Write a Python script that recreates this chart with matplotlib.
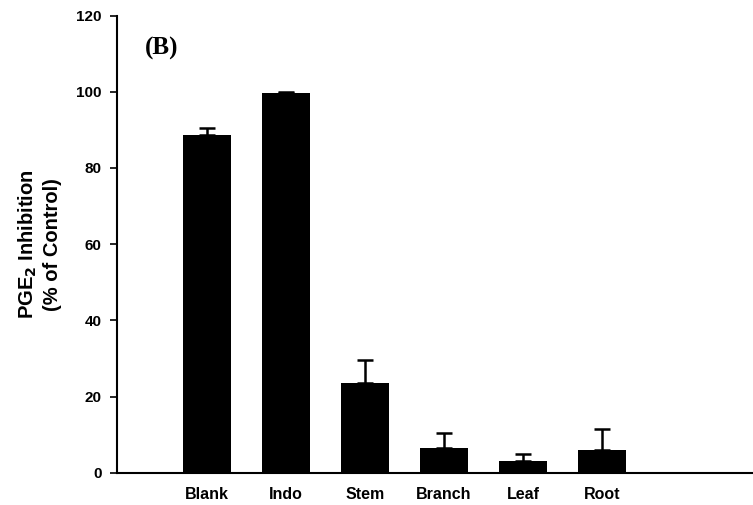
import numpy as np
import matplotlib.pyplot as plt

categories = ['Blank', 'Indo', 'Stem', 'Branch', 'Leaf', 'Root']
values = [88.6, 99.6, 23.5, 6.4, 3.0, 6.0]
errors = [2.0, 0.3, 6.2, 4.1, 1.8, 5.4]

plt.rcParams['font.family'] = ['Liberation Sans', 'DejaVu Sans']
plt.rcParams['font.weight'] = 'bold'

fig = plt.figure(figsize=(7.53, 5.05), dpi=100)
ax = fig.add_axes([0.155, 0.064, 0.845, 0.905])

x = np.arange(len(categories))
ax.bar(x, values, width=0.61, color='black', zorder=2)
# only the upper half of the error bars is drawn
ax.errorbar(x, values, yerr=[np.zeros(len(errors)), errors], fmt='none',
            ecolor='black', elinewidth=1.8, capsize=6, capthick=1.8, zorder=1)

ax.set_xlim(-1.14, 6.91)
ax.set_ylim(0, 120)
ax.set_yticks(np.arange(0, 121, 20))
ax.set_xticks(x)
ax.set_xticklabels(categories, fontsize=11.5, fontweight='bold')
ax.tick_params(axis='x', length=0, pad=10)
ax.tick_params(axis='y', direction='out', length=5, width=1.2, labelsize=11, pad=6)
for lab in ax.get_yticklabels():
    lab.set_fontweight('bold')

ax.spines['top'].set_visible(False)
ax.spines['right'].set_visible(False)
ax.spines['left'].set_linewidth(1.5)
ax.spines['bottom'].set_linewidth(1.5)

ax.set_ylabel('PGE$_\\mathbf{2}$ Inhibition\n(% of Control)', fontsize=14.5,
              fontweight='bold', linespacing=1.25)
ax.yaxis.set_label_coords(-0.086, 0.5)

ax.text(0.044, 0.915, '(B)', transform=ax.transAxes, fontsize=18,
        family=['Liberation Serif', 'DejaVu Serif'], fontweight='bold')

fig.savefig('out.png', dpi=100)
